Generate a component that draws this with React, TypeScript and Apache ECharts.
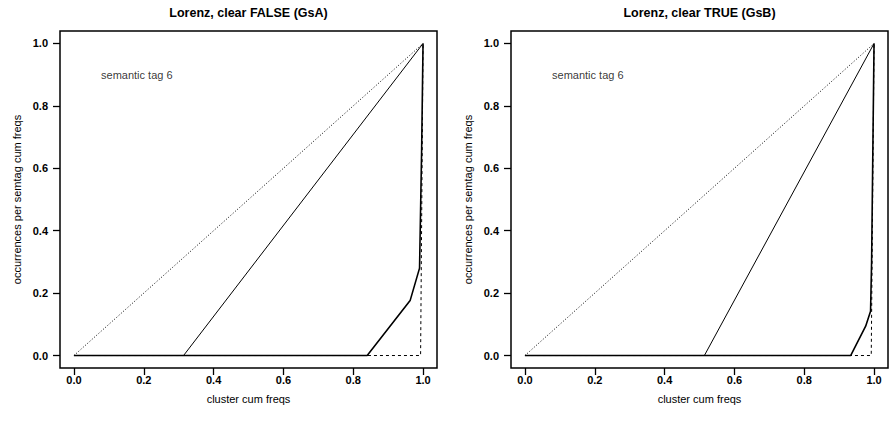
import React, { useEffect, useRef } from "react";
import * as echarts from "echarts";

// Tick positions shared by both panels
const xTicks = [0, 0.2, 0.4, 0.6, 0.8, 1.0];
const yTicks = [0, 0.2, 0.4, 0.6, 0.8, 1.0];

// Line of perfect equality
const equalityX = [0, 1];
const equalityY = [0, 1];

// Panel A (clear FALSE)
const gsaMaxX = [0, 0.993, 1];
const gsaMaxY = [0, 0, 1];
const gsaThinX = [0, 0.314, 1];
const gsaThinY = [0, 0, 1];
const gsaThickX = [0, 0.84, 0.963, 0.99, 0.996, 1];
const gsaThickY = [0, 0, 0.176, 0.28, 0.66, 1];

// Panel B (clear TRUE)
const gsbMaxX = [0, 0.992, 1];
const gsbMaxY = [0, 0, 1];
const gsbThinX = [0, 0.514, 1];
const gsbThinY = [0, 0, 1];
const gsbThickX = [0, 0.933, 0.976, 0.99, 0.993, 0.997, 1];
const gsbThickY = [0, 0, 0.094, 0.142, 0.3, 0.7, 1];

const titles = ["Lorenz, clear FALSE (GsA)", "Lorenz, clear TRUE (GsB)"];
const tagLabel = "semantic tag 6";
const tagPos = [0.18, 0.9];
const xName = "cluster cum freqs";
const yName = "occurrences per semtag cum freqs";

const FONT = "'Liberation Sans', Arial, Helvetica, sans-serif";

const zip = (xs: number[], ys: number[]) => xs.map((x, i) => [x, ys[i]]);

export default function App() {
  const ref = useRef<HTMLDivElement>(null);

  useEffect(() => {
    if (!ref.current) return;
    const chart = echarts.init(ref.current, null, { renderer: "svg" });

    const grids = [
      { left: 60, top: 31, width: 377, height: 337 },
      { left: 511, top: 31, width: 377, height: 337 },
    ];

    const xAxis = grids.map((_, i) => ({
      type: "value",
      gridIndex: i,
      min: -0.04,
      max: 1.04,
      name: xName,
      nameLocation: "middle",
      nameGap: 25,
      nameMoveOverlap: false,
      nameTextStyle: { fontFamily: FONT, fontSize: 11, color: "#000" },
      axisLine: { show: false, onZero: false },
      splitLine: { show: false },
      axisTick: {
        show: true,
        length: 7,
        customValues: xTicks,
        lineStyle: { color: "#000", width: 1.3 },
      },
      axisLabel: {
        customValues: xTicks,
        formatter: (v: number) => v.toFixed(1),
        margin: 6,
        fontFamily: FONT,
        fontSize: 11,
        fontWeight: "bold",
        color: "#000",
      },
    }));

    const yAxis = grids.map((_, i) => ({
      type: "value",
      gridIndex: i,
      min: -0.04,
      max: 1.04,
      name: yName,
      nameLocation: "middle",
      nameGap: 38,
      nameMoveOverlap: false,
      nameTextStyle: { fontFamily: FONT, fontSize: 11, color: "#000" },
      axisLine: { show: false, onZero: false },
      splitLine: { show: false },
      axisTick: {
        show: true,
        length: 7,
        customValues: yTicks,
        lineStyle: { color: "#000", width: 1.3 },
      },
      axisLabel: {
        customValues: yTicks,
        formatter: (v: number) => v.toFixed(1),
        margin: 12,
        fontFamily: FONT,
        fontSize: 11,
        fontWeight: "bold",
        color: "#000",
      },
    }));

    const line = (
      idx: number,
      xs: number[],
      ys: number[],
      type: any,
      width: number
    ) => ({
      type: "line",
      xAxisIndex: idx,
      yAxisIndex: idx,
      data: zip(xs, ys),
      symbol: "none",
      silent: true,
      lineStyle: { color: "#000", width, type },
    });

    const panels = [
      { max: [gsaMaxX, gsaMaxY], thin: [gsaThinX, gsaThinY], thick: [gsaThickX, gsaThickY] },
      { max: [gsbMaxX, gsbMaxY], thin: [gsbThinX, gsbThinY], thick: [gsbThickX, gsbThickY] },
    ];

    const series: any[] = [];
    panels.forEach((p, i) => {
      series.push(line(i, p.max[0], p.max[1], [3, 3], 1));
      series.push(line(i, equalityX, equalityY, [1, 2], 1));
      series.push(line(i, p.thin[0], p.thin[1], "solid", 1));
      series.push(line(i, p.thick[0], p.thick[1], "solid", 1.6));
      series.push({
        type: "scatter",
        xAxisIndex: i,
        yAxisIndex: i,
        data: [tagPos],
        symbolSize: 0,
        silent: true,
        label: {
          show: true,
          position: "inside",
          formatter: tagLabel,
          fontFamily: FONT,
          fontSize: 11,
          color: "#000",
        },
      });
    });

    chart.setOption({
      animation: false,
      backgroundColor: "#fff",
      grid: grids.map((g) => ({
        ...g,
        show: true,
        borderColor: "#000",
        borderWidth: 1.5,
        backgroundColor: "transparent",
      })),
      xAxis,
      yAxis,
      series,
      graphic: grids.map((g, i) => ({
        type: "text",
        x: g.left + g.width / 2,
        y: 13,
        style: {
          text: titles[i],
          textAlign: "center",
          textVerticalAlign: "middle",
          fontFamily: FONT,
          fontSize: 12.5,
          fontWeight: "bold",
          fill: "#000",
        },
      })),
    });

    return () => chart.dispose();
  }, []);

  return (
    <div
      ref={ref}
      style={{ position: "fixed", left: 0, top: 0, width: 889, height: 426, background: "#fff" }}
    />
  );
}
